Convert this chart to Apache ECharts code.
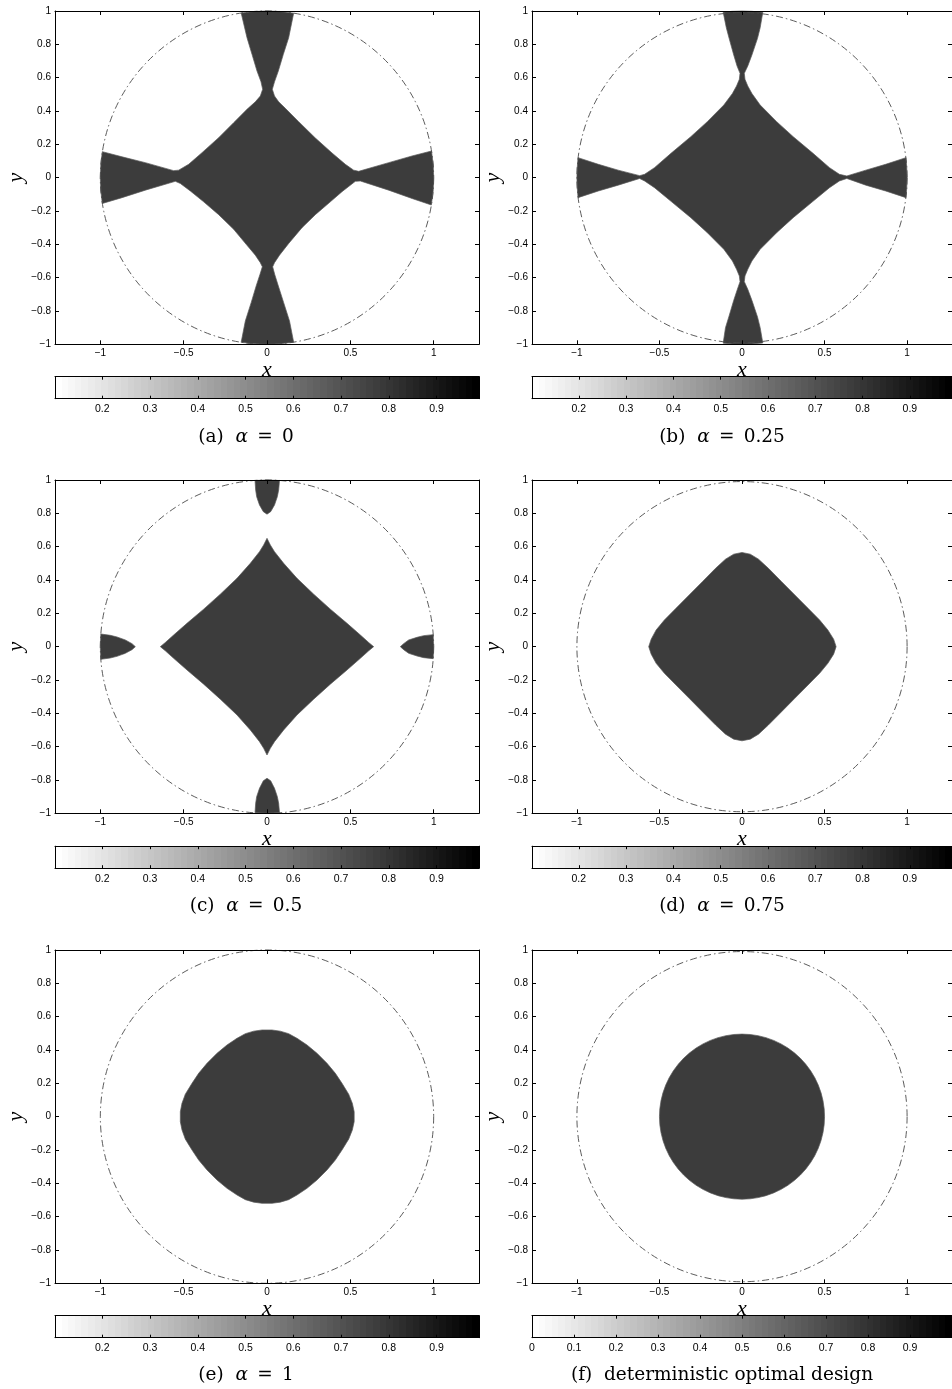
<!DOCTYPE html>
<html><head><meta charset="utf-8">
<script src="https://cdn.jsdelivr.net/npm/echarts@6/dist/echarts.min.js"></script>
<style>html,body{margin:0;padding:0;background:#fff}#c{width:952px;height:1389px}</style>
</head><body><div id="c"></div>
<script>
// ---------------- data ----------------
const xTicks = [-1, -0.5, 0, 0.5, 1];
const yTicks = [-1, -0.8, -0.6, -0.4, -0.2, 0, 0.2, 0.4, 0.6, 0.8, 1];
const xRange = [-1.272, 1.272];
const yRange = [-1, 1];
const cbTicks = [0.2, 0.3, 0.4, 0.5, 0.6, 0.7, 0.8, 0.9];
const cbTicksF = [0, 0.1, 0.2, 0.3, 0.4, 0.5, 0.6, 0.7, 0.8, 0.9];
const cbRange = [0.101, 0.989];
const cbRangeF = [0, 1];
const captionLetters = ['(a)', '(b)', '(c)', '(d)', '(e)', '(f)'];
const alphaValues = ['0', '0.25', '0.5', '0.75', '1', null];
const captionF = 'deterministic optimal design';
const domainCircle = [[0, 0, 1]];       // centre x, centre y, radius
const diskF = [[0, 0, 0.5]];            // deterministic design: disk

const shapeA = [
[-0.155,0.988],[-0.08,0.997],[0,1],[0.08,0.997],[0.16,0.987],
[0.13,0.84],[0.098,0.74],[0.068,0.64],[0.045,0.575],[0.032,0.53],
[0.045,0.49],[0.07,0.455],[0.11,0.416],[0.19,0.336],[0.29,0.238],[0.39,0.148],[0.47,0.08],[0.52,0.045],[0.55,0.038],
[0.73,0.09],[0.87,0.13],[0.987,0.16],[0.997,0.08],[1,0],[0.997,-0.08],[0.986,-0.164],
[0.87,-0.125],[0.73,-0.075],[0.56,-0.02],[0.53,-0.022],
[0.45,-0.084],[0.38,-0.145],[0.29,-0.222],[0.21,-0.3],[0.13,-0.395],[0.075,-0.465],[0.045,-0.51],[0.034,-0.535],
[0.046,-0.58],[0.068,-0.65],[0.1,-0.75],[0.135,-0.86],[0.16,-0.987],
[0.08,-0.997],[0,-1],[-0.08,-0.997],[-0.155,-0.988],
[-0.13,-0.86],[-0.095,-0.75],[-0.065,-0.65],[-0.042,-0.58],[-0.028,-0.535],
[-0.04,-0.51],[-0.07,-0.465],[-0.125,-0.4],[-0.2,-0.31],[-0.29,-0.222],[-0.38,-0.145],[-0.46,-0.08],[-0.52,-0.035],[-0.55,-0.022],
[-0.73,-0.075],[-0.87,-0.12],[-0.988,-0.155],
[-0.997,-0.08],[-1,0],[-0.997,0.08],[-0.988,0.156],
[-0.87,0.125],[-0.73,0.09],[-0.56,0.042],[-0.53,0.045],
[-0.47,0.08],[-0.39,0.15],[-0.29,0.24],[-0.2,0.33],[-0.12,0.41],[-0.07,0.455],[-0.04,0.49],[-0.026,0.53],
[-0.036,0.575],[-0.06,0.64],[-0.09,0.74],[-0.12,0.84]
];

const shapeB = [
[-0.114,0.993],[-0.06,0.998],[0,1],[0.06,0.998],[0.126,0.992],
[0.11,0.9],[0.094,0.836],[0.06,0.736],[0.035,0.67],[0.014,0.626],
[0.018,0.59],[0.035,0.55],[0.06,0.505],[0.11,0.436],[0.21,0.336],[0.31,0.246],[0.43,0.146],[0.53,0.06],[0.59,0.02],[0.635,0.01],
[0.75,0.045],[0.87,0.08],[0.993,0.12],[0.998,0.06],[1,0],[0.998,-0.06],[0.993,-0.12],
[0.87,-0.08],[0.75,-0.045],[0.635,-0.005],
[0.59,-0.02],[0.53,-0.06],[0.43,-0.142],[0.31,-0.24],[0.21,-0.33],[0.11,-0.43],[0.06,-0.5],[0.035,-0.55],[0.018,-0.59],[0.014,-0.624],
[0.035,-0.67],[0.06,-0.736],[0.094,-0.836],[0.11,-0.9],[0.126,-0.992],
[0.06,-0.998],[0,-1],[-0.06,-0.998],[-0.114,-0.993],
[-0.1,-0.9],[-0.08,-0.836],[-0.05,-0.736],[-0.028,-0.67],[-0.012,-0.624],
[-0.016,-0.59],[-0.033,-0.55],[-0.058,-0.5],[-0.11,-0.43],[-0.21,-0.33],[-0.31,-0.24],[-0.43,-0.142],[-0.53,-0.06],[-0.59,-0.02],[-0.62,-0.005],
[-0.75,-0.045],[-0.87,-0.08],[-0.993,-0.12],[-0.998,-0.06],[-1,0],[-0.998,0.06],[-0.993,0.12],
[-0.87,0.08],[-0.75,0.045],[-0.62,0.012],
[-0.59,0.02],[-0.53,0.06],[-0.43,0.146],[-0.31,0.246],[-0.21,0.336],[-0.11,0.436],[-0.058,0.505],[-0.033,0.55],[-0.016,0.59],[-0.012,0.626],
[-0.03,0.67],[-0.05,0.736],[-0.078,0.836],[-0.095,0.9]
];

const shapeCStar = [
[0,0.65],[0.02,0.61],[0.045,0.57],[0.1,0.5],[0.18,0.41],[0.28,0.315],[0.38,0.225],[0.48,0.14],[0.56,0.07],[0.61,0.025],[0.64,0],
[0.61,-0.025],[0.56,-0.07],[0.48,-0.14],[0.38,-0.225],[0.28,-0.315],[0.18,-0.41],[0.1,-0.5],[0.045,-0.57],[0.02,-0.61],[0,-0.65],
[-0.02,-0.61],[-0.045,-0.57],[-0.1,-0.5],[-0.18,-0.41],[-0.28,-0.315],[-0.38,-0.225],[-0.48,-0.14],[-0.56,-0.07],[-0.61,-0.025],[-0.64,0],
[-0.61,0.025],[-0.56,0.07],[-0.48,0.14],[-0.38,0.225],[-0.28,0.315],[-0.18,0.41],[-0.1,0.5],[-0.045,0.57],[-0.02,0.61]
];
const shapeCTop = [[-0.072,0.997],[-0.068,0.94],[-0.062,0.9],[-0.045,0.85],[-0.022,0.81],[0,0.795],[0.022,0.81],[0.045,0.85],[0.062,0.9],[0.07,0.94],[0.075,0.997],[0,1]];
const shapeCBottom = [[-0.072,-0.997],[-0.068,-0.94],[-0.062,-0.9],[-0.045,-0.85],[-0.022,-0.805],[0,-0.79],[0.022,-0.805],[0.045,-0.85],[0.062,-0.9],[0.07,-0.94],[0.075,-0.997],[0,-1]];
const shapeCLeft = [[-0.997,0.076],[-0.94,0.068],[-0.9,0.058],[-0.85,0.04],[-0.81,0.018],[-0.79,0],[-0.81,-0.018],[-0.85,-0.04],[-0.9,-0.058],[-0.94,-0.068],[-0.997,-0.076],[-1,0]];
const shapeCRight = [[0.997,0.072],[0.94,0.066],[0.9,0.056],[0.85,0.04],[0.82,0.018],[0.8,0],[0.82,-0.018],[0.85,-0.04],[0.9,-0.056],[0.94,-0.066],[0.997,-0.072],[1,0]];

const shapeD = [
[0,0.565],[0.05,0.555],[0.1,0.525],[0.16,0.47],[0.24,0.39],[0.32,0.31],[0.4,0.23],[0.47,0.16],[0.52,0.1],[0.555,0.045],[0.57,0],
[0.555,-0.045],[0.52,-0.1],[0.47,-0.16],[0.4,-0.23],[0.32,-0.31],[0.24,-0.39],[0.16,-0.47],[0.1,-0.525],[0.05,-0.555],[0,-0.565],
[-0.05,-0.555],[-0.1,-0.525],[-0.16,-0.47],[-0.24,-0.39],[-0.32,-0.31],[-0.4,-0.23],[-0.47,-0.16],[-0.52,-0.1],[-0.55,-0.045],[-0.565,0],
[-0.55,0.045],[-0.52,0.1],[-0.47,0.16],[-0.4,0.23],[-0.32,0.31],[-0.24,0.39],[-0.16,0.47],[-0.1,0.525],[-0.05,0.555]
];

const shapeE = [
[-0.03,0.52],[0.03,0.52],[0.08,0.513],[0.13,0.498],[0.18,0.47],[0.24,0.43],[0.3,0.38],[0.36,0.32],[0.41,0.26],[0.45,0.2],[0.49,0.135],[0.512,0.08],[0.523,0.03],
[0.523,-0.03],[0.512,-0.08],[0.49,-0.135],[0.45,-0.2],[0.41,-0.26],[0.36,-0.32],[0.3,-0.38],[0.24,-0.43],[0.18,-0.47],[0.13,-0.498],[0.08,-0.513],[0.03,-0.52],
[-0.03,-0.52],[-0.08,-0.513],[-0.13,-0.498],[-0.18,-0.47],[-0.24,-0.43],[-0.3,-0.38],[-0.36,-0.32],[-0.41,-0.26],[-0.45,-0.2],[-0.49,-0.135],[-0.51,-0.08],[-0.52,-0.03],
[-0.52,0.03],[-0.51,0.08],[-0.49,0.135],[-0.45,0.2],[-0.41,0.26],[-0.36,0.32],[-0.3,0.38],[-0.24,0.43],[-0.18,0.47],[-0.13,0.498],[-0.08,0.513]
];

// ---------------- layout / style ----------------
const W = 424, H = 333.3;
const colLeft = [55, 532];
const rowTop = [11, 480, 950];
const cbTop = [376.7, 846.2, 1315.7];
const cbH = 22;
const capX = [246, 722];
const capY = [436.7, 906, 1375];
const FILL = '#3c3c3c';
const EDGE = 'rgba(90,90,90,0.7)';
const SANS = 'Liberation Sans';
const SERIF = 'Liberation Serif';
const CAPFONT = 'DejaVu Serif';

const panelPolys = [
  [shapeA], [shapeB],
  [shapeCStar, shapeCTop, shapeCBottom, shapeCLeft, shapeCRight],
  [shapeD], [shapeE], []
];

const fmt = v => String(v).replace('-', '\u2212');

const grid = [], xAxis = [], yAxis = [], series = [], graphic = [];

function addPlot(k) {
  const col = k % 2, row = Math.floor(k / 2);
  const gi = grid.length;
  grid.push({left: colLeft[col], top: rowTop[row], width: W, height: H, containLabel: false});
  const line = {show: true, onZero: false, lineStyle: {color: '#000', width: 1}};
  const xi = xAxis.length;
  xAxis.push({type: 'value', gridIndex: gi, min: xRange[0], max: xRange[1], position: 'bottom', z: 10,
    axisLine: line, splitLine: {show: false},
    axisTick: {show: true, inside: true, length: 4, customValues: xTicks, lineStyle: {color: '#000'}},
    axisLabel: {show: true, customValues: xTicks, formatter: fmt, fontFamily: SANS, fontSize: 10, color: '#000', margin: 4},
    name: 'x', nameLocation: 'middle', nameGap: 5,
    nameTextStyle: {fontFamily: SERIF, fontStyle: 'italic', fontSize: 22, color: '#000'}});
  xAxis.push({type: 'value', gridIndex: gi, min: xRange[0], max: xRange[1], position: 'top', z: 10,
    axisLine: line, splitLine: {show: false},
    axisTick: {show: true, inside: true, length: 4, customValues: xTicks, lineStyle: {color: '#000'}},
    axisLabel: {show: false}});
  const yi = yAxis.length;
  yAxis.push({type: 'value', gridIndex: gi, min: yRange[0], max: yRange[1], position: 'left', z: 10,
    axisLine: line, splitLine: {show: false},
    axisTick: {show: true, inside: true, length: 4, customValues: yTicks, lineStyle: {color: '#000'}},
    axisLabel: {show: true, customValues: yTicks, formatter: fmt, fontFamily: SANS, fontSize: 10, color: '#000', margin: 4},
    name: 'y', nameLocation: 'middle', nameGap: 27, nameRotate: 90,
    nameTextStyle: {fontFamily: SERIF, fontStyle: 'italic', fontSize: 22, color: '#000'}});
  yAxis.push({type: 'value', gridIndex: gi, min: yRange[0], max: yRange[1], position: 'right', z: 10,
    axisLine: line, splitLine: {show: false},
    axisTick: {show: true, inside: true, length: 4, customValues: yTicks, lineStyle: {color: '#000'}},
    axisLabel: {show: false}});

  panelPolys[k].forEach(pts => {
    series.push({type: 'custom', xAxisIndex: xi, yAxisIndex: yi, silent: true, z: 2,
      data: pts, encode: {x: 0, y: 1},
      renderItem: (params, api) => {
        if (params.dataIndex !== 0) return;
        return {type: 'polygon', shape: {points: pts.map(p => api.coord(p))},
          style: {fill: FILL, stroke: EDGE, lineWidth: 1}};
      }});
  });
  if (k === 5) {
    series.push({type: 'custom', xAxisIndex: xi, yAxisIndex: yi, silent: true, z: 2,
      data: diskF, encode: {x: 0, y: 1},
      renderItem: (params, api) => {
        const c = api.coord([api.value(0), api.value(1)]);
        const r = api.size([api.value(2), 0])[0];
        return {type: 'circle', shape: {cx: c[0], cy: c[1], r: r}, style: {fill: FILL, stroke: EDGE, lineWidth: 1}};
      }});
  }
  series.push({type: 'custom', xAxisIndex: xi, yAxisIndex: yi, silent: true, z: 3,
    data: domainCircle, encode: {x: 0, y: 1},
    renderItem: (params, api) => {
      const c = api.coord([api.value(0), api.value(1)]);
      const r = api.size([api.value(2), 0])[0];
      return {type: 'circle', shape: {cx: c[0], cy: c[1], r: r},
        style: {fill: null, stroke: '#4a4a4a', lineWidth: 0.9, lineDash: [7, 3, 1.5, 3]}};
    }});
}

function addColorbar(k) {
  const col = k % 2, row = Math.floor(k / 2);
  const gi = grid.length;
  grid.push({left: colLeft[col], top: cbTop[row], width: W, height: cbH});
  const range = k === 5 ? cbRangeF : cbRange;
  const ticks = k === 5 ? cbTicksF : cbTicks;
  const line = {show: true, onZero: false, lineStyle: {color: '#000', width: 1}};
  const xi = xAxis.length;
  xAxis.push({type: 'value', gridIndex: gi, min: range[0], max: range[1], position: 'bottom', z: 10,
    axisLine: line, splitLine: {show: false},
    axisTick: {show: true, inside: true, length: 3, customValues: ticks, lineStyle: {color: '#000'}},
    axisLabel: {show: true, customValues: ticks, formatter: fmt, fontFamily: SANS, fontSize: 10.5, color: '#000', margin: 5}});
  xAxis.push({type: 'value', gridIndex: gi, min: range[0], max: range[1], position: 'top', z: 10,
    axisLine: line, splitLine: {show: false},
    axisTick: {show: true, inside: true, length: 3, customValues: ticks, lineStyle: {color: '#000'}},
    axisLabel: {show: false}});
  const yi = yAxis.length;
  yAxis.push({type: 'value', gridIndex: gi, min: 0, max: 1, position: 'left', z: 10,
    axisLine: line, splitLine: {show: false}, axisTick: {show: false}, axisLabel: {show: false}});
  yAxis.push({type: 'value', gridIndex: gi, min: 0, max: 1, position: 'right', z: 10,
    axisLine: line, splitLine: {show: false}, axisTick: {show: false}, axisLabel: {show: false}});
  series.push({type: 'custom', xAxisIndex: xi, yAxisIndex: yi, silent: true,
    data: [[range[0], range[1]]], encode: {x: [0, 1]},
    renderItem: (params, api) => {
      const p0 = api.coord([api.value(0), 0]);
      const p1 = api.coord([api.value(1), 1]);
      const n = 64, stops = [];
      for (let i = 0; i < n; i++) {
        const g = Math.round(255 * (1 - i / (n - 1)));
        const c = 'rgb(' + g + ',' + g + ',' + g + ')';
        stops.push({offset: i / n, color: c}, {offset: (i + 1) / n, color: c});
      }
      return {type: 'rect', shape: {x: p0[0], y: p1[1], width: p1[0] - p0[0], height: p0[1] - p1[1]},
        style: {fill: new echarts.graphic.LinearGradient(0, 0, 1, 0, stops)}};
    }});
}

for (let k = 0; k < 6; k++) { addPlot(k); }
for (let k = 0; k < 6; k++) { addColorbar(k); }

for (let k = 0; k < 6; k++) {
  const col = k % 2, row = Math.floor(k / 2);
  const text = alphaValues[k] !== null
    ? '{r|' + captionLetters[k] + '  }{i|\u03b1}{r|\u2002=\u2002' + alphaValues[k] + '}'
    : '{r|' + captionLetters[k] + '  ' + captionF + '}';
  graphic.push({type: 'text', x: capX[col], y: capY[row], silent: true,
    style: {text: text, align: 'center', verticalAlign: 'middle',
      rich: {r: {fontFamily: CAPFONT, fontSize: 18.5, fill: '#000'}, i: {fontFamily: CAPFONT, fontStyle: 'italic', fontSize: 18.5, fill: '#000'}}}});
}

const chart = echarts.init(document.getElementById('c'), null, {renderer: 'canvas'});
chart.setOption({animation: false, backgroundColor: '#fff', grid, xAxis, yAxis, series, graphic});
</script></body></html>
